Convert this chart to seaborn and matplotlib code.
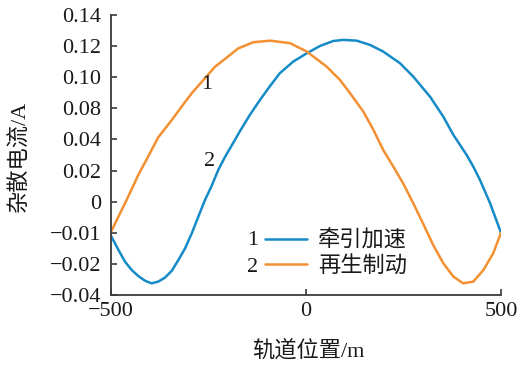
import numpy as np
import pandas as pd
import matplotlib
matplotlib.use("Agg")
import matplotlib.pyplot as plt
import matplotlib.ticker as mticker
from matplotlib.lines import Line2D
import seaborn as sns

# ---- data ----
x_blue = [-500, -481, -464, -447, -430, -413, -396, -379, -362, -344, -327, -310,
          -293, -276, -259, -242, -225, -208, -182, -169, -144, -118, -92, -67,
          -33, 2, 36, 70, 96, 130, 164, 198, 241, 275, 318, 352, 378, 412, 429,
          446, 472, 500]
y_blue = [-0.0110, -0.0155, -0.0193, -0.0239, -0.0278, -0.0308, -0.0325, -0.0314,
          -0.0289, -0.0244, -0.0187, -0.0150, -0.0102, -0.0048, 0.0011, 0.0101,
          0.0204, 0.0286, 0.0398, 0.0510, 0.0715, 0.0854, 0.0944, 0.1026, 0.1100,
          0.1154, 0.1201, 0.1233, 0.1240, 0.1235, 0.1208, 0.1165, 0.1090, 0.1004,
          0.0875, 0.0693, 0.0458, 0.0300, 0.0225, 0.0140, -0.0005, -0.0100]

x_orange = [-500, -481, -464, -447, -430, -413, -396, -379, -344, -319, -293, -259,
            -233, -203, -174, -135, -92, -41, 2, 53, 87, 113, 147, 173, 198, 224,
            249, 275, 300, 326, 352, 378, 403, 429, 455, 480, 500]
y_orange = [-0.0097, -0.0048, -0.0005, 0.0080, 0.0172, 0.0251, 0.0332, 0.0426,
            0.0651, 0.0811, 0.0897, 0.0994, 0.1068, 0.1127, 0.1185, 0.1225, 0.1235,
            0.1219, 0.1165, 0.1068, 0.0983, 0.0897, 0.0758, 0.0522, 0.0332, 0.0225,
            0.0118, -0.0005, -0.0070, -0.0139, -0.0198, -0.0282, -0.0325, -0.0314,
            -0.0239, -0.0166, -0.0100]

series_names = ["牵引加速", "再生制动"]
series_nums = ["1", "2"]
y_tick_vals = [-0.04, -0.02, -0.01, 0.0, 0.02, 0.04, 0.08, 0.10, 0.12, 0.14]
y_tick_labels = ["\u22120.04", "\u22120.02", "\u22120.01", "0", "0.02", "0.04",
                 "0.08", "0.10", "0.12", "0.14"]
x_tick_vals = [-500, 0, 500]
x_tick_labels = ["\u2212500", "0", "500"]
x_label = "轨道位置/m"
y_label = "杂散电流/A"

blue = "#158bc8"
orange = "#f39031"

sns.set_theme(style="ticks")
plt.rcParams["font.family"] = ["Liberation Serif", "Noto Sans CJK SC"]
plt.rcParams["axes.unicode_minus"] = True

fig = plt.figure(figsize=(5.19, 3.69), dpi=100)
ax = fig.add_axes([111 / 519, 1 - 295 / 369, 390 / 519, 280 / 369])

df_b = pd.DataFrame({"x": x_blue, "y": y_blue})
df_o = pd.DataFrame({"x": x_orange, "y": y_orange})
sns.lineplot(data=df_b, x="x", y="y", ax=ax, color=blue, lw=1.8, sort=False)
sns.lineplot(data=df_o, x="x", y="y", ax=ax, color=orange, lw=1.8, sort=False)

# non-uniform labelled axis: ticks are evenly spaced on the page
pos = np.arange(len(y_tick_vals), dtype=float)
tv = np.array(y_tick_vals)
fwd = lambda v: np.interp(v, tv, pos)
inv = lambda p: np.interp(p, pos, tv)
ax.set_yscale("function", functions=(fwd, inv))
ax.set_ylim(-0.04, 0.14)
ax.set_xlim(-500, 500)

ax.yaxis.set_major_locator(mticker.FixedLocator(y_tick_vals))
ax.yaxis.set_major_formatter(mticker.FixedFormatter(y_tick_labels))
ax.yaxis.set_minor_locator(mticker.NullLocator())
ax.set_xticks(x_tick_vals)
ax.set_xticklabels(x_tick_labels)

for s in ["top", "right"]:
    ax.spines[s].set_visible(False)
for s in ["left", "bottom"]:
    ax.spines[s].set_color("#3a3a3a")
    ax.spines[s].set_linewidth(1.3)
ax.tick_params(axis="both", direction="in", length=4, width=1.2, color="#3a3a3a",
               labelsize=16, labelcolor="#1a1a1a")
ax.tick_params(axis="y", pad=7)
ax.tick_params(axis="x", pad=5)

ax.set_xlabel(x_label, fontsize=16, color="#1a1a1a")
ax.set_ylabel(y_label, fontsize=16, color="#1a1a1a")
ax.xaxis.set_label_coords(0.505, -0.16)
ax.yaxis.set_label_coords(-0.205, 0.495)

# curve annotations
ax.text(0.245, 0.751, "1", transform=ax.transAxes, fontsize=16,
        ha="center", va="center", color="#1a1a1a")
ax.text(0.253, 0.478, "2", transform=ax.transAxes, fontsize=16,
        ha="center", va="center", color="#1a1a1a")

# legend with numbers on the left
handles = [Line2D([], [], color=blue, lw=1.8), Line2D([], [], color=orange, lw=1.8)]
leg = ax.legend(handles, series_names, frameon=False, fontsize=16,
                loc="center left", bbox_to_anchor=(0.394, 0.148),
                handlelength=1.9, handletextpad=0.5, labelspacing=0.17,
                borderpad=0, borderaxespad=0)
for t in leg.get_texts():
    t.set_color("#1a1a1a")
ax.text(0.363, 0.196, series_nums[0], transform=ax.transAxes, fontsize=16,
        ha="center", va="center", color="#1a1a1a")
ax.text(0.363, 0.0996, series_nums[1], transform=ax.transAxes, fontsize=16,
        ha="center", va="center", color="#1a1a1a")

fig.savefig("out.png", dpi=100)
